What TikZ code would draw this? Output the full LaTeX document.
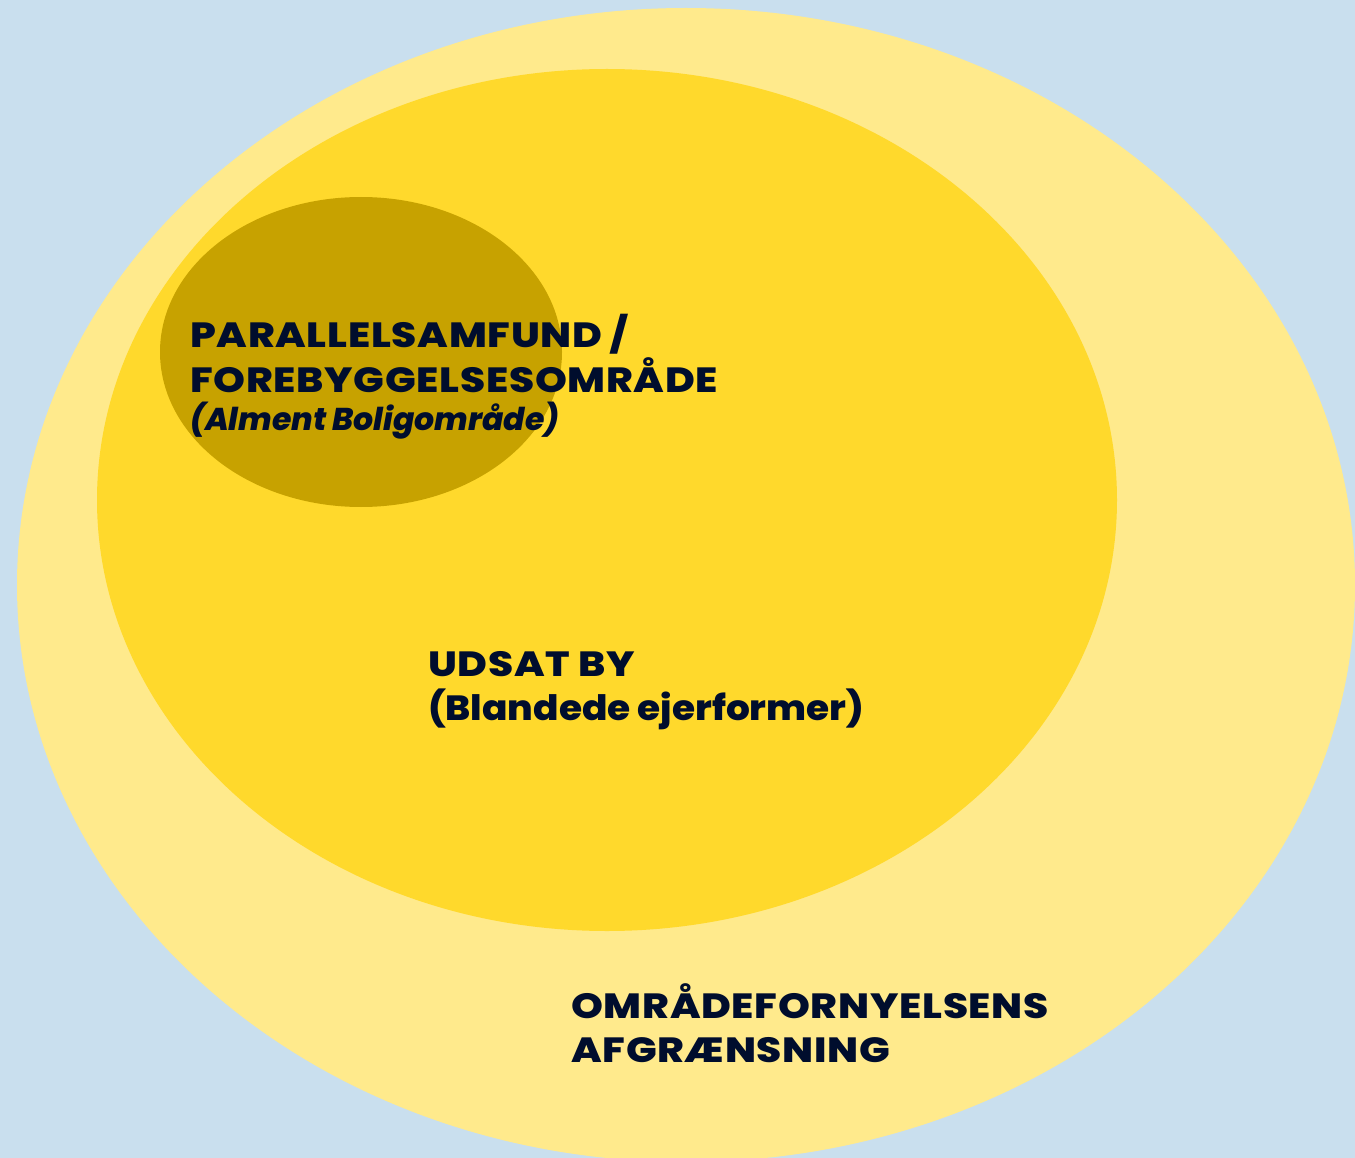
\documentclass[tikz,border=0pt]{standalone}
\usepackage{fontspec}
\setmainfont{Poppins}[UprightFont=* ExtraBold, ItalicFont=* ExtraBold Italic]
\newfontfamily\capsfont{Poppins ExtraBold}[FakeStretch=1.16, LetterSpace=2]
\newfontfamily\lowfont{Poppins ExtraBold}[FakeStretch=1.07]
\usetikzlibrary{positioning}
\definecolor{bgblue}{HTML}{C9DFEE}
\definecolor{outeryellow}{HTML}{FFEA8C}
\definecolor{midyellow}{HTML}{FFD92C}
\definecolor{innergold}{HTML}{C7A200}
\definecolor{navytext}{HTML}{000D2D}
\tikzset{
  zone/.style={align=left,anchor=base west,inner sep=0pt,text=navytext,
    font=\fontsize{35}{44}\selectfont\capsfont}
}

\begin{document}
\begin{tikzpicture}[x=1pt,y=-1pt]
\fill[bgblue] (0,0) rectangle (1355,1158);
\useasboundingbox (0,0) rectangle (1355,1158);
\begin{scope}
\clip (0,0) rectangle (1355,1158);
\fill[outeryellow] (686,585) ellipse (669 and 577);
\end{scope}
\fill[midyellow] (607,500) ellipse (510 and 431);
\fill[innergold] (361,352) ellipse (201 and 155);
\node[zone,font=\fontsize{35}{45}\selectfont\capsfont] (parallel) at (190,392) {PARALLELSAMFUND /\\FOREBYGGELSESOMRÅDE};
\node[zone,font=\fontsize{31.5}{38}\selectfont\rmfamily\itshape] (almen) at (190,430) {(Alment Boligområde)};
\node[zone] (udsat) at (428,720) {UDSAT BY\\{\lowfont(Blandede ejerformer)}};
\node[zone] (omraade) at (571,1062) {OMRÅDEFORNYELSENS\\AFGRÆNSNING};
\end{tikzpicture}
\end{document}
